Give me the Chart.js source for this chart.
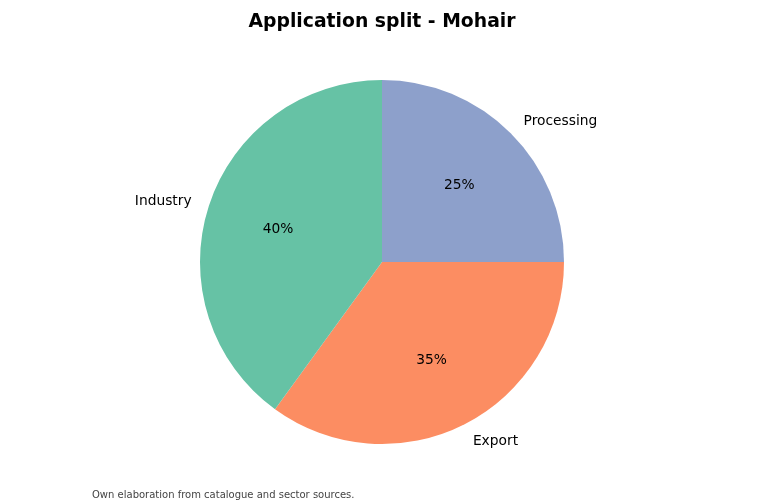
<!DOCTYPE html>
<html lang="en">
<head>
    <meta charset="UTF-8">
    <title>Application split - Mohair</title>
    <script src="https://cdn.jsdelivr.net/npm/chart.js"></script>
    <style>
        html, body { margin: 0; padding: 0; background: #fff; }
        #wrap { width: 765px; height: 503px; }
    </style>
</head>
<body>
    <div id="wrap">
        <canvas id="pieChart" width="765" height="503"></canvas>
    </div>

    <script>
        // drawn clockwise from the top, so order is reversed vs the source
        const categories = ["Processing", "Export", "Industry"];
        const shares = [25, 35, 40];
        const sliceColors = ["#8da0cb", "#fc8d62", "#66c2a5"];

        const titleText = "Application split - Mohair";
        const sourceText = "Own elaboration from catalogue and sector sources.";

        // labels outside the pie and percentages inside, matplotlib style
        const pieLabels = {
            id: "pieLabels",
            afterDraw(chart) {
                const ctx = chart.ctx;
                const arcs = chart.getDatasetMeta(0).data;
                ctx.save();
                ctx.fillStyle = "#000";
                ctx.textBaseline = "middle";
                arcs.forEach((arc, i) => {
                    const mid = (arc.startAngle + arc.endAngle) / 2;
                    const r = arc.outerRadius;
                    const cx = Math.cos(mid), cy = Math.sin(mid);

                    ctx.font = "13.8px 'DejaVu Sans'";
                    ctx.textAlign = cx >= 0 ? "left" : "right";
                    ctx.fillText(categories[i], arc.x + cx * r * 1.1, arc.y + cy * r * 1.1 + 1);

                    ctx.textAlign = "center";
                    ctx.fillText(shares[i] + "%", arc.x + cx * r * 0.6, arc.y + cy * r * 0.6 + 1);
                });

                ctx.font = "bold 18.8px 'DejaVu Sans'";
                ctx.textAlign = "center";
                ctx.fillText(titleText, 382, 22);

                ctx.font = "10px 'DejaVu Sans'";
                ctx.fillStyle = "#444";
                ctx.textAlign = "left";
                ctx.fillText(sourceText, 92, 495.5);
                ctx.restore();
            }
        };

        new Chart(document.getElementById("pieChart").getContext("2d"), {
            type: "pie",
            data: {
                labels: categories,
                datasets: [{
                    data: shares,
                    backgroundColor: sliceColors,
                    borderWidth: 0
                }]
            },
            options: {
                responsive: false,
                animation: false,
                layout: { padding: { top: 80, bottom: 59, left: 200, right: 201 } },
                plugins: {
                    legend: { display: false },
                    tooltip: { enabled: false },
                    title: { display: false }
                }
            },
            plugins: [pieLabels]
        });
    </script>
</body>
</html>
